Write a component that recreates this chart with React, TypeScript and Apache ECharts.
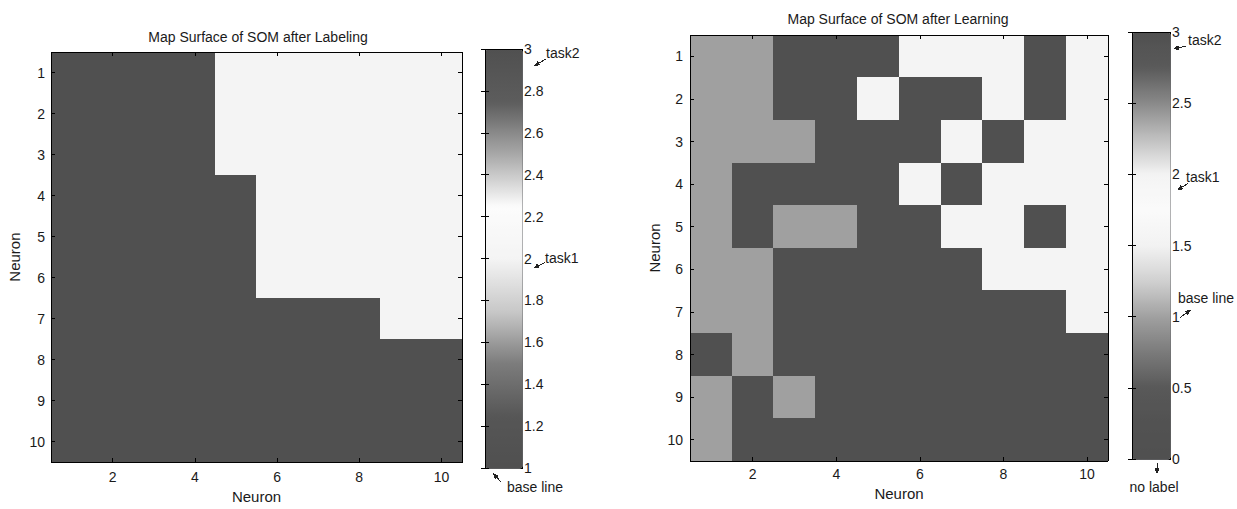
import React, { useEffect, useRef } from 'react';
import * as echarts from 'echarts';

const neuronCols = ['1', '2', '3', '4', '5', '6', '7', '8', '9', '10'];
const neuronRows = ['1', '2', '3', '4', '5', '6', '7', '8', '9', '10'];

// 3 = task2 (dark), 2 = task1 (white), 1 = base line (grey)
const labelingMap = [
  [3, 3, 3, 3, 2, 2, 2, 2, 2, 2],
  [3, 3, 3, 3, 2, 2, 2, 2, 2, 2],
  [3, 3, 3, 3, 2, 2, 2, 2, 2, 2],
  [3, 3, 3, 3, 3, 2, 2, 2, 2, 2],
  [3, 3, 3, 3, 3, 2, 2, 2, 2, 2],
  [3, 3, 3, 3, 3, 2, 2, 2, 2, 2],
  [3, 3, 3, 3, 3, 3, 3, 3, 2, 2],
  [3, 3, 3, 3, 3, 3, 3, 3, 3, 3],
  [3, 3, 3, 3, 3, 3, 3, 3, 3, 3],
  [3, 3, 3, 3, 3, 3, 3, 3, 3, 3],
];

const learningMap = [
  [1, 1, 3, 3, 3, 2, 2, 2, 3, 2],
  [1, 1, 3, 3, 2, 3, 3, 2, 3, 2],
  [1, 1, 1, 3, 3, 3, 2, 3, 2, 2],
  [1, 3, 3, 3, 3, 2, 3, 2, 2, 2],
  [1, 3, 1, 1, 3, 3, 2, 2, 3, 2],
  [1, 1, 3, 3, 3, 3, 3, 2, 2, 2],
  [1, 1, 3, 3, 3, 3, 3, 3, 3, 2],
  [3, 1, 3, 3, 3, 3, 3, 3, 3, 3],
  [1, 3, 1, 3, 3, 3, 3, 3, 3, 3],
  [1, 3, 3, 3, 3, 3, 3, 3, 3, 3],
];

const labelingRange = { min: 1, max: 3, interval: 0.2 };
const learningRange = { min: 0, max: 3, interval: 0.5 };

const labelingColors = ['#505050', '#565656', '#7c7c7c', '#c8c8c8', '#f4f4f4', '#fcfcfc', '#a8a8a8', '#5c5c5c', '#505050'];
const learningColors = ['#505050', '#525252', '#585858', '#7a7a7a', '#a0a0a0', '#d0d0d0', '#f2f2f2', '#fafafa', '#f4f4f4', '#c0c0c0', '#8a8a8a', '#5a5a5a', '#505050'];

const titles = ['Map Surface of SOM after Labeling', 'Map Surface of SOM after Learning'];
const axisName = 'Neuron';

const FONT = "'Liberation Sans', Arial, sans-serif";
const INK = '#1a1a1a';

function toCells(m: number[][]) {
  const out: number[][] = [];
  m.forEach((row, r) => row.forEach((v, c) => out.push([c, r, v])));
  return out;
}

const evenOnly = (i: number) => i % 2 === 1;

function mapAxes(gridIndex: number, nameGapX: number, nameGapY: number, labelMarginX: number, labelMarginY: number) {
  const x = [
    {
      type: 'category', gridIndex, data: neuronCols, position: 'bottom', z: 5,
      name: axisName, nameLocation: 'middle', nameGap: nameGapX,
      nameTextStyle: { fontSize: 15, color: INK, fontFamily: FONT },
      axisLine: { show: true, lineStyle: { color: '#000', width: 1 } },
      axisTick: { show: true, inside: true, length: 4, alignWithLabel: true, interval: evenOnly, lineStyle: { color: '#000' } },
      axisLabel: { interval: evenOnly, fontSize: 14, color: INK, fontFamily: FONT, margin: labelMarginX },
      splitLine: { show: false },
    },
    {
      type: 'category', gridIndex, data: neuronCols, position: 'top', z: 5,
      axisLine: { show: true, lineStyle: { color: '#000', width: 1 } },
      axisTick: { show: true, inside: true, length: 4, alignWithLabel: true, interval: evenOnly, lineStyle: { color: '#000' } },
      axisLabel: { show: false },
      splitLine: { show: false },
    },
  ];
  const y = [
    {
      type: 'category', gridIndex, data: neuronRows, inverse: true, position: 'left', z: 5,
      name: axisName, nameLocation: 'middle', nameGap: nameGapY, nameRotate: 90,
      nameTextStyle: { fontSize: 15, color: INK, fontFamily: FONT },
      axisLine: { show: true, lineStyle: { color: '#000', width: 1 } },
      axisTick: { show: true, inside: true, length: 4, alignWithLabel: true, lineStyle: { color: '#000' } },
      axisLabel: { fontSize: 14, color: INK, fontFamily: FONT, margin: labelMarginY },
      splitLine: { show: false },
    },
    {
      type: 'category', gridIndex, data: neuronRows, inverse: true, position: 'right', z: 5,
      axisLine: { show: true, lineStyle: { color: '#000', width: 1 } },
      axisTick: { show: true, inside: true, length: 4, alignWithLabel: true, lineStyle: { color: '#000' } },
      axisLabel: { show: false },
      splitLine: { show: false },
    },
  ];
  return { x, y };
}

function barAxes(gridIndex: number, range: { min: number; max: number; interval: number }) {
  const x = { type: 'value', gridIndex, show: false, min: 0, max: 1 };
  const y = [
    {
      type: 'value', gridIndex, position: 'right', z: 10, min: range.min, max: range.max, interval: range.interval,
      axisLine: { show: false },
      axisTick: { show: true, inside: true, length: 4, lineStyle: { color: '#000' } },
      axisLabel: { fontSize: 14, color: INK, fontFamily: FONT, margin: 2 },
      splitLine: { show: false },
    },
    {
      type: 'value', gridIndex, position: 'left', z: 10, min: range.min, max: range.max, interval: range.interval,
      axisLine: { show: false },
      axisTick: { show: true, inside: true, length: 4, lineStyle: { color: '#000' } },
      axisLabel: { show: false },
      splitLine: { show: false },
    },
  ];
  return { x, y };
}

function arrow(x1: number, y1: number, x2: number, y2: number) {
  const ang = Math.atan2(y2 - y1, x2 - x1);
  const L = 6, W = 2.6;
  const bx = x2 - L * Math.cos(ang), by = y2 - L * Math.sin(ang);
  const px = -Math.sin(ang) * W, py = Math.cos(ang) * W;
  return [
    { type: 'line', z: 20, silent: true, shape: { x1, y1, x2: bx, y2: by }, style: { stroke: '#222', lineWidth: 1 } },
    { type: 'polygon', z: 20, silent: true, shape: { points: [[x2, y2], [bx + px, by + py], [bx - px, by - py]] }, style: { fill: '#222' } },
  ];
}

function note(text: string, x: number, y: number, align = 'left') {
  return {
    type: 'text', z: 20, silent: true, x, y,
    style: { text, fontSize: 14, fill: INK, fontFamily: FONT, align, verticalAlign: 'middle' },
  };
}

export default function App() {
  const ref = useRef<HTMLDivElement>(null);
  useEffect(() => {
    if (!ref.current) return;
    const chart = echarts.init(ref.current, null, { renderer: 'svg' });
    const a = mapAxes(0, 23, 29, 8, 6);
    const b = mapAxes(1, 22, 28, 6, 7);
    const ca = barAxes(2, labelingRange);
    const cb = barAxes(3, learningRange);

    chart.setOption({
      animation: false,
      backgroundColor: '#fff',
      textStyle: { fontFamily: FONT },
      grid: [
        { left: 51, top: 52, width: 411, height: 419 },
        { left: 690, top: 35, width: 418, height: 426 },
        { left: 485, top: 49, width: 37, height: 419 },
        { left: 1132, top: 32, width: 38, height: 427 },
      ],
      xAxis: [...a.x, ...b.x, ca.x, cb.x],
      yAxis: [...a.y, ...b.y, ...ca.y, ...cb.y],
      visualMap: [
        {
          type: 'continuous', seriesIndex: 0, min: labelingRange.min, max: labelingRange.max,
          inRange: { color: labelingColors }, calculable: false, hoverLink: false, orient: 'vertical',
          left: 485, top: 49, itemWidth: 37, itemHeight: 419, padding: 0,
          borderColor: '#000', borderWidth: 1,
        },
        {
          type: 'continuous', seriesIndex: 1, min: learningRange.min, max: learningRange.max,
          inRange: { color: learningColors }, calculable: false, hoverLink: false, orient: 'vertical',
          left: 1132, top: 32, itemWidth: 38, itemHeight: 427, padding: 0,
          borderColor: '#000', borderWidth: 1,
        },
      ],
      series: [
        { type: 'heatmap', xAxisIndex: 0, yAxisIndex: 0, data: toCells(labelingMap), silent: true, itemStyle: { borderWidth: 0 }, emphasis: { disabled: true } },
        { type: 'heatmap', xAxisIndex: 2, yAxisIndex: 2, data: toCells(learningMap), silent: true, itemStyle: { borderWidth: 0 }, emphasis: { disabled: true } },
      ],
    });

    const ly = (v: number) => chart.convertToPixel({ yAxisIndex: 4 } as any, v) as number;
    const ry = (v: number) => chart.convertToPixel({ yAxisIndex: 6 } as any, v) as number;
    const lcx = 522, rcx = 1170;

    chart.setOption({
      graphic: [
        { type: 'text', silent: true, x: 258, y: 37, style: { text: titles[0], fontSize: 14, fill: INK, fontFamily: FONT, align: 'center', verticalAlign: 'middle' } },
        { type: 'text', silent: true, x: 898, y: 19, style: { text: titles[1], fontSize: 14, fill: INK, fontFamily: FONT, align: 'center', verticalAlign: 'middle' } },
        // left colour bar notes
        note('task2', lcx + 24, ly(3) + 4),
        ...arrow(lcx + 24, ly(3) + 10, lcx + 12, ly(3) + 17),
        note('task1', lcx + 23, ly(2) - 1),
        ...arrow(lcx + 23, ly(2) + 4, lcx + 11, ly(2) + 10),
        note('base line', lcx - 15, ly(1) + 19),
        ...arrow(lcx - 21, ly(1) + 14, lcx - 29, ly(1) + 5),
        // right colour bar notes
        note('task2', rcx + 18, ry(3) + 8),
        ...arrow(rcx + 16, ry(3) + 14, rcx + 3, ry(3) + 17),
        note('task1', rcx + 16, ry(2) + 3),
        ...arrow(rcx + 18, ry(2) + 9, rcx + 7, ry(2) + 16),
        note('base line', rcx + 8, ry(1) - 19),
        ...arrow(rcx + 10, ry(1) + 1, rcx + 21, ry(1) - 7),
        note('no label', 1154, ry(0) + 28, 'center'),
        ...arrow(1157, ry(0) + 4, 1157, ry(0) + 15),
      ],
    });

    const svg = ref.current.querySelector('svg');
    if (svg) (svg as SVGElement).style.shapeRendering = 'crispEdges';

    return () => chart.dispose();
  }, []);
  return <div ref={ref} style={{ position: 'absolute', left: 0, top: 0, width: 1237, height: 509, background: '#fff' }} />;
}
